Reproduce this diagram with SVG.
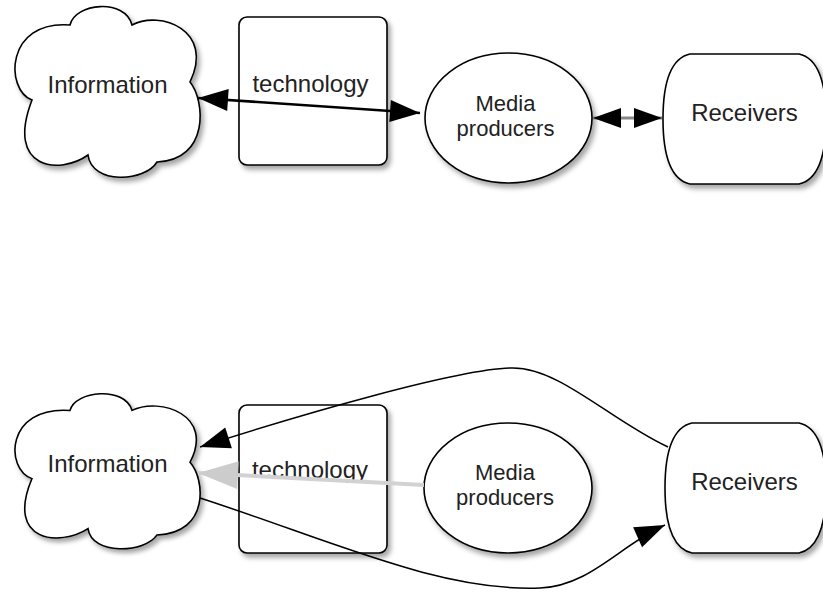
<svg xmlns="http://www.w3.org/2000/svg" xmlns:xlink="http://www.w3.org/1999/xlink" width="823" height="592" viewBox="0 0 823 592">
  <style>
    .shape { fill: #ffffff; stroke: #000000; stroke-width: 1.6; filter: url(#sh); }
    .lbl { font-family: "Liberation Sans", Arial, Helvetica, sans-serif; font-size: 24px; fill: #222222; text-anchor: middle; }
    .lbl2 { font-size: 22px; }
    .conn { fill: none; stroke: #000000; stroke-width: 1.5; }
  </style>
  <defs>
    <filter id="sh" x="-10%" y="-10%" width="130%" height="130%">
      <feDropShadow dx="3" dy="4" stdDeviation="2.5" flood-color="#000000" flood-opacity="0.35"/>
    </filter>
    <marker id="ah" markerUnits="userSpaceOnUse" markerWidth="30" markerHeight="22" refX="30" refY="11" orient="auto-start-reverse" overflow="visible">
      <path d="M0,0 L30,11 L0,22 z" fill="#000000"/>
    </marker>
    <marker id="ahs" markerUnits="userSpaceOnUse" markerWidth="28" markerHeight="20" refX="28" refY="10" orient="auto-start-reverse" overflow="visible">
      <path d="M0,0 L28,10 L0,20 z" fill="#000000"/>
    </marker>
    <marker id="ahg" markerUnits="userSpaceOnUse" markerWidth="40" markerHeight="28" refX="40" refY="14" orient="auto" overflow="visible">
      <path d="M0,0 L40,14 L0,28 z" fill="#cccccc"/>
    </marker>
    <path id="cloud" d="M32,100 C5,90 5,20 70,25 C75,3 125,-2 132,25 C160,10 215,30 190,82 C205,100 210,160 157,162 C145,182 92,185 88,155 C60,175 5,170 32,100 Z"/>
  </defs>

  <!-- Top row -->
  <g id="info-top">
    <use xlink:href="#cloud" href="#cloud" class="shape"/>
    <text class="lbl" x="107.5" y="93">Information</text>
  </g>
  <g id="tech-top">
    <rect class="shape" x="239" y="17" width="148" height="148" rx="8" ry="8"/>
    <text class="lbl" x="310.5" y="92">technology</text>
  </g>
  <g id="media-top">
    <ellipse class="shape" cx="508.5" cy="118" rx="83.5" ry="65"/>
    <text class="lbl lbl2" x="505.5" y="110.5">Media</text>
    <text class="lbl lbl2" x="505.5" y="135.5">producers</text>
  </g>
  <g id="receivers-top">
    <path class="shape" d="M690,54 L799,54 Q826,60 826,119 Q826,178 799,184 L690,184 Q663,178 663,119 Q663,60 690,54 Z"/>
    <text class="lbl" x="744.5" y="121">Receivers</text>
  </g>

  <!-- Bottom row -->
  <g id="info-bottom">
    <use xlink:href="#cloud" href="#cloud" class="shape" transform="translate(0,387.7) scale(1,0.909)" vector-effect="non-scaling-stroke"/>
    <text class="lbl" x="107.5" y="472">Information</text>
  </g>
  <g id="tech-bottom">
    <rect class="shape" x="239" y="405" width="148" height="148" rx="8" ry="8"/>
    <text class="lbl" x="310" y="478">technology</text>
  </g>
  <g id="media-bottom">
    <ellipse class="shape" cx="508" cy="488" rx="84" ry="65"/>
    <text class="lbl lbl2" x="505" y="479.5">Media</text>
    <text class="lbl lbl2" x="505" y="504.5">producers</text>
  </g>
  <g id="receivers-bottom">
    <path class="shape" d="M692,423 L799,423 Q826,429 826,488 Q826,547 799,553 L692,553 Q665,547 665,488 Q665,429 692,423 Z"/>
    <text class="lbl" x="744.5" y="490">Receivers</text>
  </g>

  <!-- Connectors -->
  <g id="connectors">
    <path d="M198,98 L420,113" fill="none" stroke="#000000" stroke-width="2.6" marker-start="url(#ah)" marker-end="url(#ah)"/>
    <path d="M593,118 L662,118" fill="none" stroke="#888888" stroke-width="3" marker-start="url(#ahs)" marker-end="url(#ahs)"/>
    <path class="conn" d="M668,447 C610,420 560,368 513,368 C460,368 300,415 200,447" marker-end="url(#ah)"/>
    <path class="conn" d="M200,498 C330,540 440,592 540,588 C590,586 620,545 665,525" marker-end="url(#ah)"/>
    <path d="M424,485 L198,473" fill="none" stroke="#d2d2d2" stroke-width="4" marker-end="url(#ahg)"/>
  </g>
</svg>
